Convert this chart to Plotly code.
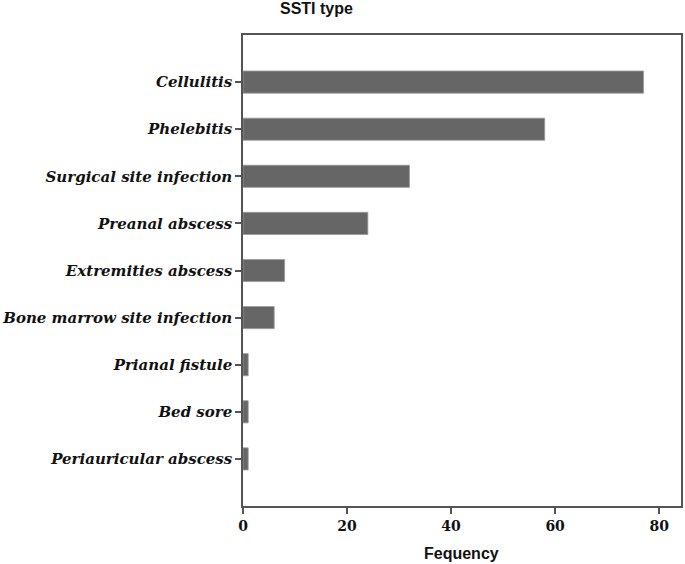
import plotly.graph_objects as go

categories = ["Cellulitis", "Phelebitis", "Surgical site infection", "Preanal abscess",
              "Extremities abscess", "Bone marrow site infection", "Prianal fistule",
              "Bed sore", "Periauricular abscess"]
frequency = [77, 58, 32, 24, 8, 6, 1, 1, 1]
x_ticks = [0, 20, 40, 60, 80]

W, H = 685, 564
L, R, T, B = 238, 2, 35, 58

fig = go.Figure(go.Bar(
    x=frequency, y=categories, orientation="h",
    marker=dict(color="#666666", line=dict(color="#9a9a9a", width=0.8)),
    width=0.47,
))

serif = "DejaVu Serif"
fig.update_layout(
    width=W, height=H,
    margin=dict(l=L, r=R, t=T, b=B),
    plot_bgcolor="white", paper_bgcolor="white",
    showlegend=False,
    xaxis=dict(
        range=[0, 84.2], tickvals=x_ticks, ticks="outside", ticklen=6, tickwidth=1.5,
        tickcolor="#555555", showline=True, linecolor="#555555", linewidth=1.5,
        mirror=True, showgrid=False, zeroline=False,
        tickfont=dict(family=serif, size=14, color="#111111", weight="bold"),
    ),
    yaxis=dict(
        categoryorder="array", categoryarray=categories, range=[9, -1],
        ticks="outside", ticklen=6, tickwidth=1.5, tickcolor="#555555",
        showline=True, linecolor="#555555", linewidth=1.5, mirror=True,
        showgrid=False, zeroline=False,
        tickfont=dict(family=serif, size=15, color="#111111", weight="bold", style="italic"),
    ),
)

pw = W - L - R
ph = H - T - B
fig.add_annotation(text="SSTI type", x=(274 - L) / pw, y=1 + (T - 8) / ph,
                   xref="paper", yref="paper", showarrow=False,
                   xanchor="left", yanchor="middle",
                   font=dict(family="Liberation Sans", size=16, color="#111111", weight="bold"))
fig.add_annotation(text="Fequency", x=(460 - L) / pw, y=-(553 - (H - B)) / ph,
                   xref="paper", yref="paper", showarrow=False,
                   xanchor="center", yanchor="middle",
                   font=dict(family="Liberation Sans", size=16, color="#111111", weight="bold"))

fig.write_html("out.html", config={"displayModeBar": False},
               post_script="document.body.style.margin='0px';")
